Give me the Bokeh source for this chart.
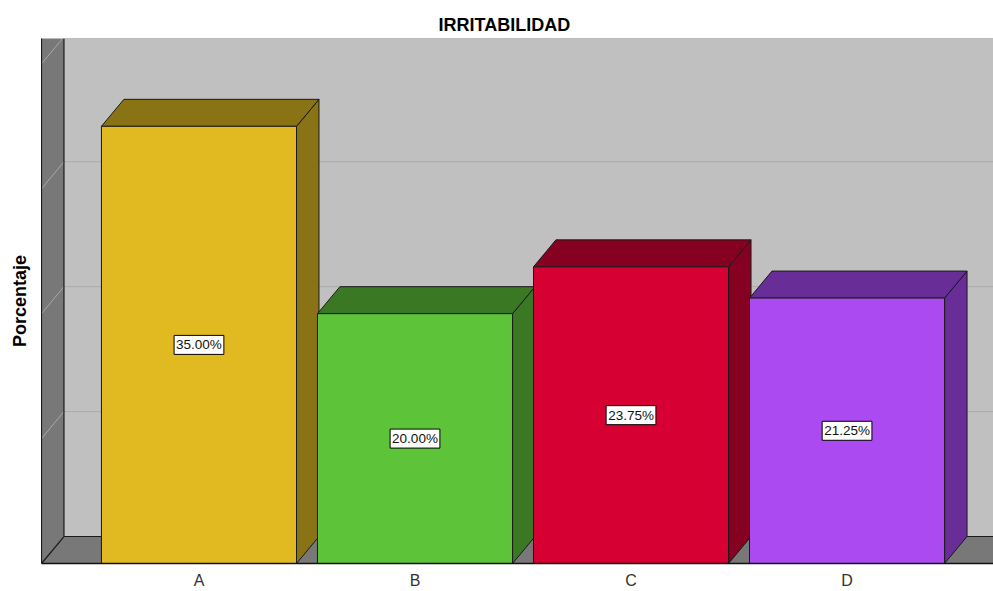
from bokeh.plotting import figure
from bokeh.models import ColumnDataSource, FixedTicker, Range1d
from bokeh.embed import file_html
from bokeh.resources import INLINE
from bokeh.core.properties import value

# ---------------- data ----------------
categories = ["A", "B", "C", "D"]
percentages = [35.00, 20.00, 23.75, 21.25]
front_colors = ["#E0BA20", "#5DC439", "#D60032", "#AA4AF0"]
side_colors = ["#8A7314", "#3B7824", "#850021", "#692D97"]
grid_values = [10, 20, 30, 40]

# ---------------- geometry / style ----------------
BAR_W = 0.903      # bar width in category units
DX = 0.104         # 3D depth, x (category units)
DY = 2.16          # 3D depth, y (percent units)
X0, X1 = -0.729, 3.678
Y_TOP = 42.03
FONT = "Liberation Sans"
EDGE = "#1a1a1a"

p = figure(width=993, height=591, x_range=Range1d(X0, X1), y_range=Range1d(0, Y_TOP),
           output_backend="svg", toolbar_location=None,
           min_border_left=41, min_border_right=0, min_border_top=38, min_border_bottom=28)
p.background_fill_color = "#787878"
p.border_fill_color = "white"
p.outline_line_color = None
p.xgrid.visible = False
p.ygrid.visible = False

# title
p.title.text = "IRRITABILIDAD"
p.title.align = "left"
p.title.offset = 397
p.title.standoff = 7
p.title.text_font = FONT
p.title.text_font_size = "18px"
p.title.text_font_style = "bold"
p.title.text_color = "black"

# back wall
p.quad(left=[X0 + DX], right=[X1], bottom=[DY], top=[Y_TOP],
       fill_color="#C0C0C0", line_color=None)

# gridlines on back wall and diagonals on the left wall
p.segment(x0=[X0 + DX] * len(grid_values), y0=[g + DY for g in grid_values],
          x1=[X1] * len(grid_values), y1=[g + DY for g in grid_values],
          line_color="#ABABAB", line_width=1)
p.segment(x0=[X0] * len(grid_values), y0=grid_values,
          x1=[X0 + DX] * len(grid_values), y1=[g + DY for g in grid_values],
          line_color="#A8A8A8", line_width=1)

# wall edges
p.segment(x0=[X0 + DX, X0 + DX, X0, X0], y0=[DY, DY, 0, 0],
          x1=[X0 + DX, X1, X0 + DX, X0], y1=[Y_TOP, DY, DY, Y_TOP],
          line_color=EDGE, line_width=1.2)

# bars
n = len(categories)
idx = list(range(n))
xl = [i - BAR_W / 2 for i in idx]
xr = [i + BAR_W / 2 for i in idx]

side_xs = [[r, r + DX, r + DX, r] for r in xr]
side_ys = [[0, DY, v + DY, v] for v in percentages]
top_xs = [[l, l + DX, r + DX, r] for l, r in zip(xl, xr)]
top_ys = [[v, v + DY, v + DY, v] for v in percentages]

p.patches(xs=side_xs, ys=side_ys, fill_color=side_colors, line_color=EDGE, line_width=1)
p.patches(xs=top_xs, ys=top_ys, fill_color=side_colors, line_color=EDGE, line_width=1)
p.quad(left=xl, right=xr, bottom=[0] * n, top=percentages,
       fill_color=front_colors, line_color=EDGE, line_width=1)

# value labels
lab = ColumnDataSource(dict(x=idx, y=[v / 2 for v in percentages],
                            t=[f"{v:.2f}%" for v in percentages]))
p.text(x="x", y="y", text="t", source=lab, text_align="center", text_baseline="middle",
       text_font=value(FONT), text_font_size="13.5px", text_color="#111111",
       background_fill_color="white", border_line_color="black", border_line_width=1,
       padding=2)

# x axis
p.xaxis.ticker = FixedTicker(ticks=idx)
p.xaxis.major_label_overrides = {i: c for i, c in zip(idx, categories)}
p.xaxis.major_tick_line_color = None
p.xaxis.minor_tick_line_color = None
p.xaxis.major_tick_out = 0
p.xaxis.major_label_standoff = 8
p.xaxis.axis_line_color = "#111111"
p.xaxis.axis_line_width = 1.5
p.xaxis.major_label_text_font = FONT
p.xaxis.major_label_text_font_size = "16px"
p.xaxis.major_label_text_color = "#333333"

# y axis (label only)
p.yaxis.ticker = FixedTicker(ticks=[])
p.yaxis.major_tick_out = 0
p.yaxis.minor_tick_out = 0
p.yaxis.axis_line_color = EDGE
p.yaxis.axis_label = "Porcentaje"
p.yaxis.axis_label_standoff = 12
p.yaxis.axis_label_text_font = FONT
p.yaxis.axis_label_text_font_size = "18px"
p.yaxis.axis_label_text_font_style = "bold"
p.yaxis.axis_label_text_color = "black"

open("out.html", "w").write(file_html(p, INLINE))
